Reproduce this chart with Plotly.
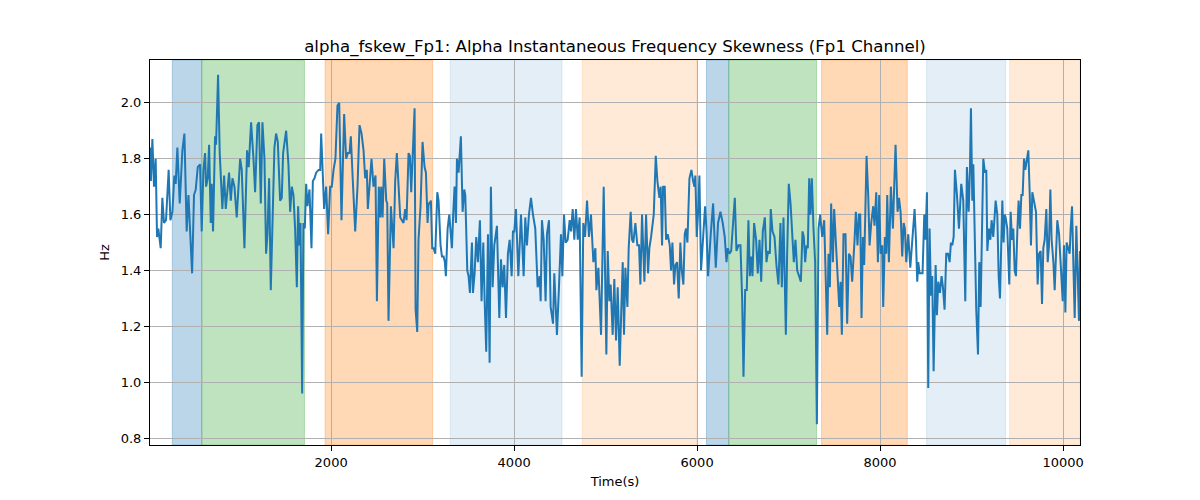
import plotly.graph_objects as go

# ---- data ----
time_s = [
    20, 30, 46, 64, 82, 97, 111, 137, 155, 173, 195, 224, 243, 265, 286, 301, 319, 345, 374, 396,
    421, 440, 480, 501, 520, 542, 567, 585, 604, 622, 633, 651, 666, 684, 695, 709, 731, 742, 764, 782,
    811, 830, 848, 884, 903, 921, 943, 968, 1005, 1023, 1052, 1081, 1099, 1125, 1151, 1169, 1194, 1212, 1231, 1249,
    1271, 1289, 1304, 1322, 1340, 1362, 1380, 1398, 1417, 1442, 1460, 1475, 1508, 1533, 1552, 1570, 1588, 1606, 1625, 1639,
    1654, 1665, 1683, 1697, 1712, 1727, 1741, 1763, 1785, 1800, 1818, 1836, 1862, 1880, 1891, 1909, 1923, 1945, 1967, 1989,
    2007, 2026, 2047, 2069, 2088, 2113, 2142, 2164, 2182, 2201, 2215, 2237, 2263, 2288, 2310, 2332, 2354, 2372, 2390, 2401,
    2419, 2441, 2463, 2485, 2500, 2521, 2536, 2547, 2562, 2580, 2602, 2613, 2627, 2653, 2682, 2700, 2718, 2737, 2755, 2773,
    2791, 2809, 2824, 2846, 2861, 2875, 2893, 2912, 2923, 2941, 2955, 2977, 2999, 3021, 3036, 3054, 3065, 3076, 3090, 3105,
    3119, 3138, 3160, 3174, 3196, 3211, 3229, 3243, 3254, 3273, 3291, 3305, 3320, 3335, 3349, 3364, 3375, 3393, 3404, 3418,
    3437, 3455, 3466, 3488, 3502, 3517, 3539, 3550, 3568, 3586, 3604, 3626, 3644, 3663, 3677, 3695, 3714, 3732, 3746, 3765,
    3783, 3812, 3838, 3856, 3874, 3892, 3911, 3932, 3951, 3973, 3987, 4002, 4020, 4046, 4075, 4104, 4122, 4140, 4162, 4184,
    4206, 4231, 4257, 4279, 4290, 4304, 4323, 4344, 4359, 4381, 4399, 4425, 4439, 4468, 4490, 4512, 4527, 4545, 4563, 4585,
    4607, 4622, 4640, 4658, 4676, 4695, 4716, 4738, 4756, 4775, 4797, 4818, 4840, 4866, 4888, 4899, 4921, 4950, 4979, 5008,
    5023, 5041, 5055, 5077, 5095, 5114, 5132, 5154, 5172, 5187, 5201, 5216, 5238, 5252, 5274, 5289, 5303, 5325, 5347, 5365,
    5380, 5398, 5424, 5442, 5464, 5478, 5497, 5526, 5548, 5566, 5588, 5602, 5617, 5628, 5646, 5661, 5679, 5701, 5715, 5730,
    5748, 5763, 5781, 5799, 5817, 5832, 5850, 5865, 5879, 5894, 5916, 5938, 5956, 5971, 5981, 5996, 6014, 6025, 6043, 6065,
    6087, 6102, 6120, 6149, 6175, 6204, 6229, 6255, 6280, 6302, 6321, 6335, 6353, 6372, 6390, 6412, 6430, 6452, 6474, 6492,
    6507, 6525, 6543, 6561, 6576, 6590, 6605, 6623, 6645, 6663, 6682, 6700, 6718, 6740, 6758, 6776, 6795, 6805, 6824, 6846,
    6867, 6889, 6911, 6926, 6944, 6970, 6984, 7002, 7021, 7039, 7057, 7075, 7094, 7115, 7134, 7152, 7166, 7181, 7196, 7210,
    7225, 7239, 7254, 7272, 7290, 7309, 7327, 7345, 7367, 7389, 7411, 7422, 7436, 7451, 7465, 7484, 7498, 7524, 7553, 7568,
    7582, 7600, 7622, 7640, 7659, 7677, 7695, 7721, 7735, 7753, 7768, 7783, 7797, 7812, 7826, 7852, 7870, 7885, 7903, 7925,
    7939, 7958, 7976, 7990, 8005, 8023, 8034, 8052, 8067, 8078, 8096, 8118, 8140, 8155, 8169, 8191, 8206, 8224, 8242, 8257,
    8271, 8286, 8308, 8330, 8351, 8377, 8392, 8406, 8417, 8432, 8446, 8464, 8483, 8497, 8512, 8526, 8541, 8556, 8570, 8585,
    8607, 8621, 8636, 8654, 8672, 8687, 8705, 8723, 8742, 8760, 8774, 8789, 8804, 8818, 8840, 8862, 8887, 8909, 8931, 8949,
    8968, 8982, 8993, 9008, 9019, 9037, 9051, 9070, 9084, 9099, 9113, 9128, 9146, 9161, 9172, 9190, 9205, 9219, 9237, 9248,
    9263, 9281, 9296, 9310, 9325, 9336, 9350, 9361, 9372, 9390, 9412, 9427, 9442, 9456, 9471, 9485, 9500, 9514, 9529, 9544,
    9558, 9573, 9587, 9602, 9620, 9635, 9649, 9664, 9682, 9704, 9722, 9737, 9755, 9770, 9784, 9799, 9817, 9832, 9846, 9861,
    9875, 9894, 9908, 9923, 9937, 9956, 9974, 9996, 10010, 10025, 10039, 10054, 10072, 10083, 10098, 10112, 10127, 10145, 10160, 10174,
    10185,
]

skew_hz = [
    1.84, 1.72, 1.87, 1.70, 1.80, 1.52, 1.55, 1.48, 1.66, 1.57, 1.58, 1.76, 1.58, 1.61, 1.74, 1.71, 1.84, 1.64, 1.83, 1.89,
    1.54, 1.67, 1.39, 1.67, 1.69, 1.77, 1.78, 1.54, 1.76, 1.82, 1.70, 1.73, 1.85, 1.57, 1.71, 1.54, 1.88, 1.85, 2.10, 1.82,
    1.62, 1.74, 1.62, 1.75, 1.65, 1.73, 1.70, 1.59, 1.80, 1.76, 1.48, 1.83, 1.77, 1.93, 1.80, 1.68, 1.92, 1.93, 1.64, 1.93,
    1.80, 1.46, 1.53, 1.73, 1.33, 1.67, 1.84, 1.89, 1.86, 1.65, 1.66, 1.82, 1.90, 1.78, 1.61, 1.70, 1.67, 1.55, 1.34, 1.63,
    1.49, 1.57, 0.96, 1.57, 1.55, 1.71, 1.63, 1.69, 1.48, 1.72, 1.73, 1.75, 1.76, 1.76, 1.89, 1.74, 1.62, 1.70, 1.53, 1.70,
    1.70, 1.76, 1.80, 1.99, 2.00, 1.58, 1.96, 1.80, 1.82, 1.82, 1.88, 1.72, 1.54, 1.70, 1.92, 1.89, 1.83, 1.73, 1.76, 1.62,
    1.69, 1.80, 1.70, 1.74, 1.29, 1.70, 1.59, 1.70, 1.59, 1.80, 1.65, 1.64, 1.22, 1.63, 1.48, 1.72, 1.82, 1.70, 1.59, 1.58,
    1.57, 1.62, 1.58, 1.82, 1.81, 1.68, 1.82, 1.98, 1.26, 1.18, 1.51, 1.63, 1.86, 1.77, 1.75, 1.57, 1.64, 1.64, 1.65, 1.48,
    1.48, 1.46, 1.68, 1.65, 1.49, 1.45, 1.45, 1.43, 1.38, 1.55, 1.60, 1.55, 1.48, 1.61, 1.70, 1.57, 1.80, 1.75, 1.80, 1.88,
    1.61, 1.69, 1.67, 1.40, 1.38, 1.32, 1.50, 1.32, 1.39, 1.52, 1.43, 1.58, 1.29, 1.50, 1.30, 1.11, 1.53, 1.07, 1.70, 1.34,
    1.49, 1.56, 1.23, 1.44, 1.34, 1.42, 1.23, 1.46, 1.51, 1.38, 1.54, 1.54, 1.62, 1.38, 1.60, 1.38, 1.59, 1.49, 1.60, 1.66,
    1.60, 1.55, 1.34, 1.38, 1.29, 1.58, 1.51, 1.29, 1.53, 1.58, 1.27, 1.21, 1.39, 1.17, 1.34, 1.53, 1.38, 1.60, 1.50, 1.51,
    1.58, 1.54, 1.62, 1.51, 1.62, 1.51, 1.59, 1.02, 1.57, 1.52, 1.65, 1.52, 1.60, 1.43, 1.48, 1.33, 1.41, 1.17, 1.70, 1.10,
    1.47, 1.29, 1.35, 1.17, 1.37, 1.15, 1.34, 1.06, 1.27, 1.43, 1.17, 1.41, 1.27, 1.48, 1.61, 1.51, 1.50, 1.57, 1.49, 1.49,
    1.35, 1.60, 1.36, 1.60, 1.39, 1.48, 1.52, 1.60, 1.81, 1.72, 1.66, 1.70, 1.49, 1.70, 1.70, 1.51, 1.53, 1.49, 1.40, 1.50,
    1.35, 1.42, 1.43, 1.30, 1.50, 1.40, 1.35, 1.53, 1.55, 1.50, 1.73, 1.76, 1.72, 1.70, 1.74, 1.52, 1.63, 1.74, 1.40, 1.51,
    1.63, 1.55, 1.38, 1.53, 1.64, 1.41, 1.57, 1.61, 1.57, 1.52, 1.43, 1.48, 1.46, 1.47, 1.56, 1.66, 1.47, 1.49, 1.49, 1.30,
    1.02, 1.33, 1.33, 1.58, 1.38, 1.45, 1.38, 1.57, 1.51, 1.39, 1.51, 1.36, 1.54, 1.59, 1.43, 1.47, 1.46, 1.62, 1.54, 1.52,
    1.42, 1.35, 1.57, 1.34, 1.59, 1.17, 1.46, 1.71, 1.64, 1.51, 1.43, 1.51, 1.40, 1.38, 1.36, 1.54, 1.52, 1.43, 1.49, 1.48,
    1.73, 1.60, 1.73, 1.55, 1.43, 0.85, 1.55, 1.60, 1.52, 1.58, 1.36, 1.17, 1.46, 1.34, 1.64, 1.43, 1.62, 1.46, 1.27, 1.36,
    1.17, 1.53, 1.53, 1.21, 1.46, 1.45, 1.36, 1.51, 1.61, 1.49, 1.60, 1.60, 1.23, 1.52, 1.42, 1.81, 1.67, 1.49, 1.57, 1.63,
    1.56, 1.68, 1.43, 1.67, 1.46, 1.49, 1.27, 1.52, 1.46, 1.67, 1.43, 1.70, 1.55, 1.71, 1.85, 1.61, 1.66, 1.61, 1.45, 1.57,
    1.55, 1.43, 1.53, 1.41, 1.51, 1.62, 1.51, 1.36, 1.43, 1.39, 1.39, 1.39, 1.60, 1.51, 1.68, 0.98, 1.55, 1.31, 1.38, 1.04,
    1.42, 1.24, 1.36, 1.32, 1.38, 1.34, 1.26, 1.46, 1.46, 1.43, 1.50, 1.49, 1.52, 1.76, 1.67, 1.55, 1.71, 1.65, 1.29, 1.77,
    1.61, 1.76, 1.98, 1.65, 1.78, 1.43, 1.26, 1.10, 1.43, 1.27, 1.51, 1.80, 1.75, 1.76, 1.47, 1.55, 1.51, 1.58, 1.52, 1.57,
    1.65, 1.60, 1.38, 1.30, 1.50, 1.65, 1.50, 1.60, 1.59, 1.55, 1.35, 1.61, 1.51, 1.55, 1.40, 1.38, 1.54, 1.65, 1.55, 1.67,
    1.67, 1.80, 1.76, 1.79, 1.83, 1.68, 1.49, 1.68, 1.65, 1.61, 1.35, 1.46, 1.47, 1.28, 1.48, 1.51, 1.62, 1.43, 1.49, 1.69,
    1.51, 1.43, 1.33, 1.48, 1.58, 1.53, 1.41, 1.29, 1.49, 1.25, 1.50, 1.48, 1.46, 1.55, 1.63, 1.43, 1.23, 1.56, 1.40, 1.22,
    1.47,
]

# shaded periods: start, end, colour
span_start = [264, 586, 1934, 3302, 4745, 6102, 6346, 7360, 8508, 9416]
span_end = [586, 1708, 3110, 4523, 5998, 6346, 7305, 8297, 9372, 10185]
span_color = [
    "rgba(31,119,180,0.30)", "rgba(44,160,44,0.30)", "rgba(255,127,14,0.30)",
    "rgba(31,119,180,0.12)", "rgba(255,127,14,0.16)",
    "rgba(31,119,180,0.30)", "rgba(44,160,44,0.30)", "rgba(255,127,14,0.30)",
    "rgba(31,119,180,0.12)", "rgba(255,127,14,0.16)",
]

x_ticks = [2000, 4000, 6000, 8000, 10000]
x_tick_text = ["2000", "4000", "6000", "8000", "10000"]
y_ticks = [0.8, 1.0, 1.2, 1.4, 1.6, 1.8, 2.0]

fig = go.Figure()
fig.add_trace(go.Scatter(x=time_s, y=skew_hz, mode="lines",
                         line=dict(color="#1f77b4", width=2), showlegend=False))

for s, e, c in zip(span_start, span_end, span_color):
    fig.add_vrect(x0=s, x1=e, fillcolor=c, line=dict(color=c, width=1), layer="below")

font = "DejaVu Sans, sans-serif"
axis_common = dict(showline=True, linecolor="black", linewidth=1, mirror=True,
                   ticks="outside", ticklen=5, tickcolor="black",
                   showgrid=True, gridcolor="#b0b0b0", gridwidth=1, zeroline=False,
                   tickfont=dict(family=font, size=13, color="black"))

fig.update_layout(
    width=1200, height=500,
    paper_bgcolor="white", plot_bgcolor="white",
    margin=dict(l=142, r=128, t=52, b=63),
    title=dict(text="alpha_fskew_Fp1: Alpha Instantaneous Frequency Skewness (Fp1 Channel)",
               xref="paper", x=0.5, xanchor="center", y=0.924, yanchor="middle",
               font=dict(family=font, size=16.6, color="black")),
    xaxis=dict(range=[min(time_s), max(time_s)], tickvals=x_ticks, ticktext=x_tick_text,
               title=dict(text="Time(s)", font=dict(family=font, size=13, color="black"), standoff=8),
               **axis_common),
    yaxis=dict(range=[0.776, 2.153], tickvals=y_ticks, tickformat=".1f",
               title=dict(text="Hz", font=dict(family=font, size=13, color="black"), standoff=8),
               **axis_common),
)

fig.write_html("out.html")
